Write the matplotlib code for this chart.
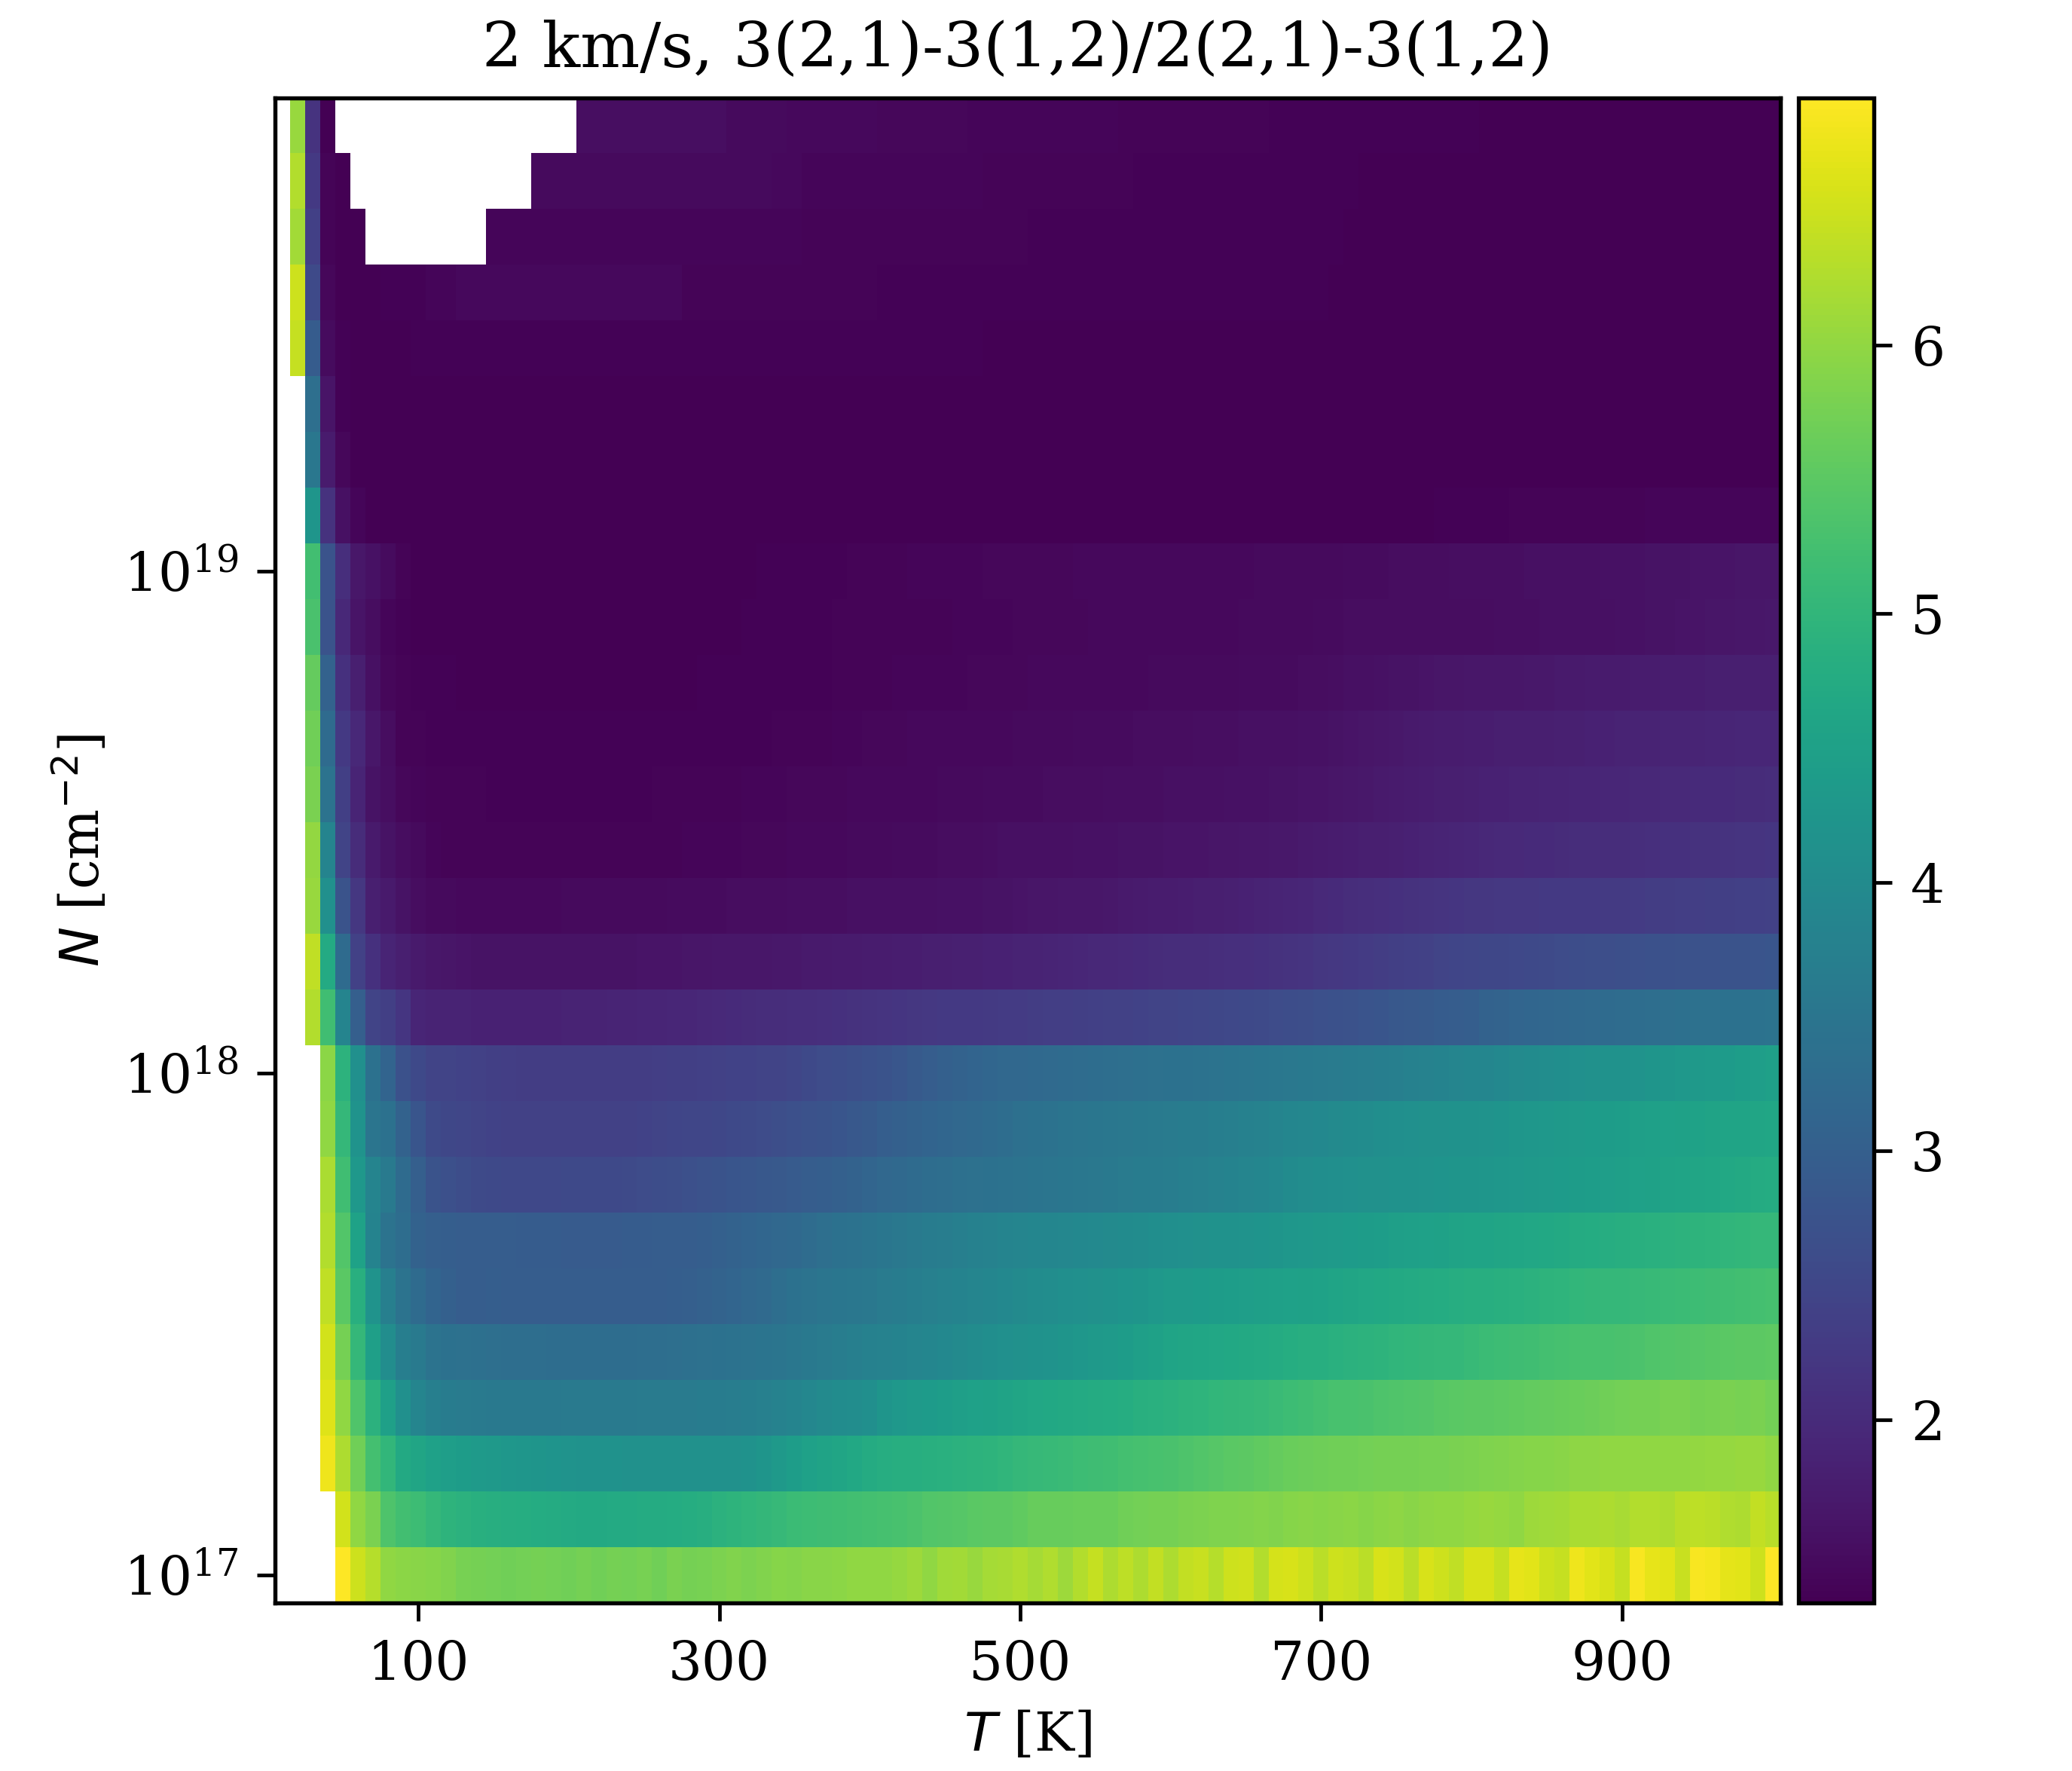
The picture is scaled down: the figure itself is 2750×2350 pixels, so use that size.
import numpy as np
import matplotlib
matplotlib.use("Agg")
import matplotlib.pyplot as plt

plt.rcParams['font.family'] = 'DejaVu Serif'

# line ratio x 100, 0 = no value (white)
# one list per column density, lowest N first, T = 10 ... 1000 K
n00 = [0,0,0,0,690,650,630,600,595,593,590,585,578,575,572,570,572,574,572,570,
575,570,575,572,578,570,580,575,578,582,585,582,586,590,588,592,593,595,598,600,
600,604,610,600,612,614,606,616,618,626,616,626,610,628,642,624,636,622,640,624,
640,646,630,650,652,628,655,657,650,634,650,646,634,657,653,634,657,650,638,657,
657,643,671,666,650,643,678,666,657,643,687,671,666,646,687,682,668,666,650,692]
n01 = [0,0,0,0,653,600,580,535,522,515,505,495,490,485,482,480,478,476,474,472,
470,470,472,472,474,475,476,478,484,490,494,498,502,508,514,516,518,520,522,524,
526,530,534,540,542,544,548,550,552,556,562,562,562,563,563,564,570,572,574,576,
580,582,584,584,586,588,586,590,592,590,592,594,590,594,596,592,596,600,598,604,
606,604,600,610,612,614,620,620,624,618,628,628,622,634,636,634,626,624,640,632]
n02 = [0,0,0,678,622,570,524,500,470,462,450,444,440,436,432,428,426,424,422,420,
418,416,416,414,414,413,412,412,412,412,414,418,424,432,442,450,456,462,468,474,
480,482,484,486,488,490,492,494,498,505,508,510,512,515,518,520,524,526,528,532,
536,540,544,548,552,556,560,565,566,568,570,570,572,574,574,576,578,578,580,582,
584,586,588,590,590,592,596,596,598,598,598,600,600,600,602,604,604,606,606,600]
n03 = [0,0,0,664,600,538,490,448,410,387,372,366,362,360,358,358,358,358,358,360,
360,360,360,360,362,362,362,362,364,366,368,370,374,378,385,392,398,402,405,408,
425,430,434,438,442,446,450,452,456,462,465,468,470,472,474,476,478,486,488,490,
494,496,500,502,506,508,512,516,520,524,528,530,532,536,538,540,542,546,548,550,
552,554,556,558,560,562,564,566,570,572,574,576,580,580,576,578,580,578,580,572]
n04 = [0,0,0,653,575,505,445,405,370,360,346,342,338,336,334,332,332,332,330,330,
330,330,330,330,332,332,334,336,338,342,344,346,348,350,354,358,362,368,372,376,
378,382,386,390,394,398,402,406,410,414,418,420,424,428,432,436,440,446,452,458,
462,464,466,468,470,472,474,478,482,484,488,490,492,494,498,500,502,504,506,510,
514,516,518,520,524,526,528,530,530,532,534,538,540,542,544,546,548,550,552,554]
n05 = [0,0,0,638,548,485,420,372,345,325,310,302,296,296,298,296,296,296,295,295,
295,295,295,295,296,296,298,300,304,308,312,318,324,332,342,346,350,352,354,356,
362,366,370,374,378,382,386,390,394,398,402,405,408,410,414,418,422,425,430,434,
436,438,440,442,444,446,448,450,452,454,460,462,466,468,470,472,474,476,480,482,
484,486,488,490,494,496,500,502,504,506,508,510,512,514,516,518,520,522,524,526]
n06 = [0,0,0,628,540,455,382,345,330,305,300,298,296,295,295,295,292,292,292,290,
291,291,291,292,293,294,295,296,298,302,306,310,314,318,322,328,334,340,344,348,
352,356,360,364,368,372,376,380,384,386,388,390,392,394,396,398,400,402,406,408,
410,414,416,418,420,422,424,428,430,432,436,438,440,442,446,448,450,452,456,458,
460,462,464,466,468,470,474,476,480,482,486,488,490,492,494,496,498,500,504,506]
n07 = [0,0,0,620,520,430,385,360,325,300,275,268,262,258,256,254,254,254,254,255,
255,256,256,258,260,262,264,268,272,276,280,282,284,286,290,294,298,302,306,312,
318,322,326,330,332,336,338,340,344,346,348,350,352,354,356,358,362,364,366,368,
372,374,378,382,386,390,394,400,404,406,408,410,412,414,416,418,420,422,424,424,
426,428,430,432,436,438,440,442,444,446,450,452,456,458,462,464,468,470,474,476]
n08 = [0,0,0,600,505,420,350,340,305,280,258,252,248,245,242,240,240,240,240,240,
240,240,240,240,242,244,246,248,250,252,255,258,260,264,268,272,276,280,284,288,
298,302,306,310,314,318,322,326,330,336,340,344,348,350,352,354,356,358,360,362,
364,366,370,372,376,380,384,388,392,394,398,400,402,406,408,410,412,414,416,418,
420,422,426,428,430,432,434,438,440,442,446,448,450,452,454,456,458,460,462,464]
n09 = [0,0,0,595,492,410,340,310,270,255,245,244,242,240,236,234,232,232,232,232,
232,232,232,232,232,233,235,236,238,240,242,243,244,245,248,256,260,262,266,270,
276,282,288,296,302,306,310,314,318,320,322,324,326,328,330,332,334,336,338,340,
342,344,346,348,350,352,354,356,358,360,362,366,368,370,372,376,380,382,386,388,
390,394,398,400,404,406,410,412,416,418,420,424,426,430,432,436,438,442,444,448]
n10 = [0,0,628,520,385,300,245,235,218,190,186,185,185,184,184,184,184,184,184,185,
186,186,188,188,190,190,192,192,194,196,198,200,202,204,205,206,208,210,212,214,
216,218,220,222,224,225,226,228,229,230,232,233,234,236,238,240,241,242,244,245,
247,249,251,253,255,257,259,262,265,268,271,274,277,280,283,286,289,292,295,298,
306,308,312,314,316,318,322,324,326,328,330,332,334,336,338,338,340,342,344,346]
n11 = [0,0,638,472,325,240,210,188,180,170,166,164,162,160,160,160,160,160,160,160,
160,160,160,160,162,162,162,164,164,165,166,166,167,168,168,170,170,172,172,174,
175,176,177,178,180,181,182,183,184,185,186,188,190,192,194,195,196,198,200,202,
203,204,206,207,208,210,212,214,217,220,223,226,229,232,235,238,241,244,247,250,
251,252,254,256,258,260,262,264,264,266,268,270,270,272,274,274,276,276,278,280]
n12 = [0,0,605,410,275,220,180,170,160,150,146,146,145,145,145,145,145,145,145,146,
146,146,146,147,147,147,148,148,149,149,150,150,151,151,152,152,153,153,154,154,
155,155,156,156,157,158,158,159,160,162,163,164,165,166,167,168,170,172,174,175,
176,178,180,182,184,186,188,190,193,196,199,202,205,208,210,212,214,216,218,220,
221,222,222,223,224,225,226,226,228,228,230,232,232,234,234,236,236,238,238,240]
n13 = [0,0,602,385,245,200,170,160,150,147,140,138,138,138,137,137,137,137,137,137,
137,137,137,138,138,138,138,139,139,140,140,141,141,142,144,145,145,145,146,146,
147,148,148,149,150,150,151,152,154,155,155,156,156,157,158,158,159,160,160,161,
162,162,163,164,165,166,168,169,170,172,174,176,178,180,182,184,186,188,190,192,
194,196,196,198,198,200,202,202,204,204,206,208,210,210,212,212,214,216,216,218]
n14 = [0,0,580,345,235,188,160,152,142,140,138,138,137,137,136,136,136,136,136,136,
136,136,136,136,136,137,137,137,138,138,138,139,139,140,142,142,142,142,143,143,
144,144,145,145,146,146,147,148,148,149,149,150,150,151,151,152,152,153,153,154,
155,155,156,157,158,158,159,160,161,162,164,166,168,170,172,174,176,178,180,182,
184,184,186,186,188,188,190,190,192,192,194,194,196,196,198,198,198,200,200,202]
n15 = [0,0,570,325,225,195,165,150,138,138,136,136,135,135,135,135,135,135,135,135,
135,135,135,135,135,135,135,135,136,136,136,136,136,137,137,137,138,139,140,142,
142,142,143,143,144,144,144,145,145,146,146,147,147,148,148,149,149,150,150,151,
151,152,152,153,154,155,155,156,157,158,160,162,164,166,168,170,172,174,175,176,
176,178,178,180,180,182,182,184,184,186,186,186,188,188,188,190,190,192,192,192]
n16 = [0,0,560,305,210,178,155,142,138,136,135,135,134,134,134,134,134,134,134,134,
134,134,134,134,134,134,134,134,135,135,135,135,135,136,136,136,136,137,137,138,
138,139,139,140,140,140,141,141,142,142,143,143,144,144,144,145,145,145,146,146,
146,146,147,147,148,148,148,149,150,151,152,154,156,158,160,160,162,164,164,165,
165,166,166,168,168,170,170,172,172,172,174,174,176,176,176,178,178,178,180,180]
n17 = [0,0,532,275,195,162,150,140,135,134,134,134,133,133,133,133,133,133,133,133,
133,133,134,134,134,134,134,134,134,134,134,135,135,135,135,136,136,137,137,137,
137,137,138,138,138,139,139,140,140,141,141,142,142,142,143,143,143,144,144,144,
144,145,145,145,146,146,146,146,147,148,149,150,150,150,150,150,150,150,150,150,
151,152,152,153,154,154,155,156,156,158,158,160,160,161,162,163,164,165,166,168]
n18 = [0,0,522,275,205,165,158,148,138,134,133,133,133,133,133,133,133,133,133,133,
133,133,133,133,133,134,134,134,134,134,134,134,135,135,135,136,136,136,137,137,
138,138,139,139,140,140,140,141,141,142,142,142,142,143,143,143,144,144,144,144,
145,145,145,145,145,146,146,146,146,147,147,148,148,149,150,150,151,151,152,152,
152,152,153,154,154,155,156,156,157,158,158,159,160,160,161,162,162,163,164,164]
n19 = [0,0,425,212,155,140,134,133,133,133,133,133,133,133,133,133,133,133,133,133,
133,133,133,133,133,133,133,133,133,133,133,133,133,133,133,133,133,133,133,133,
133,133,133,133,133,133,133,133,133,133,133,133,133,133,133,133,133,133,133,133,
133,133,133,133,133,133,133,134,134,134,134,134,134,134,134,134,134,135,135,135,
136,136,137,137,137,138,138,138,138,138,138,139,139,139,139,140,140,140,140,140]
n20 = [0,0,355,172,142,133,133,133,133,133,133,133,133,133,133,133,133,133,133,133,
133,133,133,133,133,133,133,133,133,133,133,133,133,133,133,133,133,133,133,133,
133,133,133,133,133,133,133,133,133,133,133,133,133,133,133,133,133,133,133,133,
133,133,133,133,133,133,133,133,133,133,133,133,133,133,133,133,133,133,133,133,
133,133,133,133,133,133,133,133,133,133,133,133,133,133,133,133,133,133,133,133]
n21 = [0,0,335,162,136,133,133,133,133,133,133,133,133,133,133,133,134,134,134,134,
134,134,134,134,134,134,134,133,133,133,133,133,133,133,133,133,133,133,133,133,
133,133,133,133,133,133,133,133,133,133,133,133,133,133,133,133,133,133,133,133,
133,133,133,133,133,133,133,133,133,133,133,133,133,133,133,133,133,133,133,133,
133,133,133,133,133,133,133,133,133,133,133,133,133,133,133,133,133,133,133,133]
n22 = [0,642,292,148,135,134,134,134,134,135,135,136,136,136,136,136,136,136,136,136,
136,136,136,136,136,136,136,136,136,135,135,135,135,135,135,135,135,135,135,135,
135,135,135,135,135,135,135,134,134,134,134,134,134,134,134,134,134,134,134,134,
134,134,134,134,134,134,134,134,134,134,134,134,134,134,134,134,134,134,134,134,
134,134,134,134,134,133,133,133,133,133,133,133,133,133,133,133,133,133,133,133]
n23 = [0,650,258,142,133,133,133,135,135,136,140,140,143,143,143,143,143,143,143,143,
143,143,143,143,143,143,143,137,137,137,137,137,137,137,137,137,137,137,137,137,
136,136,136,136,136,136,136,136,136,136,136,136,136,136,135,135,135,135,135,135,
135,135,135,135,135,135,135,135,135,135,134,134,134,134,134,134,134,134,134,134,
134,134,134,134,134,134,134,134,134,134,134,134,134,134,134,134,134,134,134,134]
n24 = [0,615,238,138,134,134,0,0,0,0,0,0,0,0,140,140,140,140,140,140,
140,140,140,140,140,140,140,140,140,140,139,139,139,139,139,138,138,138,138,137,
137,137,137,137,137,137,137,137,137,137,136,136,136,136,136,136,136,136,136,136,
135,135,135,135,135,135,135,135,135,135,135,134,134,134,134,134,134,134,134,134,
134,134,134,134,134,134,134,134,134,134,134,134,134,134,134,134,134,134,134,134]
n25 = [0,628,225,138,133,0,0,0,0,0,0,0,0,0,0,0,0,147,147,147,
147,147,147,147,147,147,147,146,146,146,146,146,146,145,145,140,140,140,140,140,
140,140,140,139,139,139,139,138,138,138,138,138,137,137,137,137,137,136,136,136,
135,135,135,135,135,135,135,135,135,135,135,135,134,134,134,134,134,134,134,134,
134,134,134,134,134,134,134,134,134,134,133,133,133,133,133,133,133,133,133,133]
n26 = [0,605,215,133,0,0,0,0,0,0,0,0,0,0,0,0,0,0,0,0,
152,152,152,152,152,152,152,152,152,152,146,146,146,146,143,143,143,143,143,143,
141,141,141,141,141,141,140,140,140,140,139,139,139,139,139,139,138,138,138,138,
137,137,137,137,137,137,136,136,136,136,136,136,136,136,135,135,135,135,135,135,
134,134,134,134,134,134,134,134,134,134,134,134,134,134,134,134,134,134,134,134]

rows = [n00,n01,n02,n03,n04,n05,n06,n07,n08,n09,n10,n11,n12,n13,n14,n15,n16,n17,
        n18,n19,n20,n21,n22,n23,n24,n25,n26]
ratio = np.ma.masked_equal(np.array(rows, dtype=float), 0) / 100.0

T = np.arange(10, 1010, 10)
logN = 17 + np.arange(27) / 9.0
T_edges = np.append(T - 5, T[-1] + 5)
N_edges = 10**np.append(logN - 0.5/9, logN[-1] + 0.5/9)

W, H = 2750, 2350
fig = plt.figure(figsize=(W/300, H/300), dpi=300)
ax = fig.add_axes([365.3/W, (H-2126.5)/H, 1997.3/W, 1997/H])
cax = fig.add_axes([2386.7/W, (H-2126.5)/H, 100.3/W, 1997/H])

mesh = ax.pcolormesh(T_edges, N_edges, ratio, cmap='viridis', vmin=1.32, vmax=6.92)
ax.set_yscale('log')
ax.set_xlim(5, 1005)
ax.set_ylim(N_edges[0], N_edges[-1])
ax.set_xticks([100, 300, 500, 700, 900])
ax.set_yticks([1e17, 1e18, 1e19])
ax.minorticks_off()
ax.set_xlabel('$T$ [K]', fontsize=17, labelpad=6)
ax.set_ylabel('$N$ [cm$^{-2}$]', fontsize=17, labelpad=4)
ax.set_title('2 km/s, 3(2,1)-3(1,2)/2(2,1)-3(1,2)', fontsize=20, pad=10, x=0.493)

cbar = fig.colorbar(mesh, cax=cax)
cbar.set_ticks([2, 3, 4, 5, 6])

for a in (ax, cax):
    a.tick_params(axis='both', which='major', labelsize=17, length=5.75, width=1.15, pad=6)
    for s in a.spines.values():
        s.set_linewidth(1.3)
cbar.outline.set_linewidth(1.3)

fig.savefig('out.png', dpi=300)
